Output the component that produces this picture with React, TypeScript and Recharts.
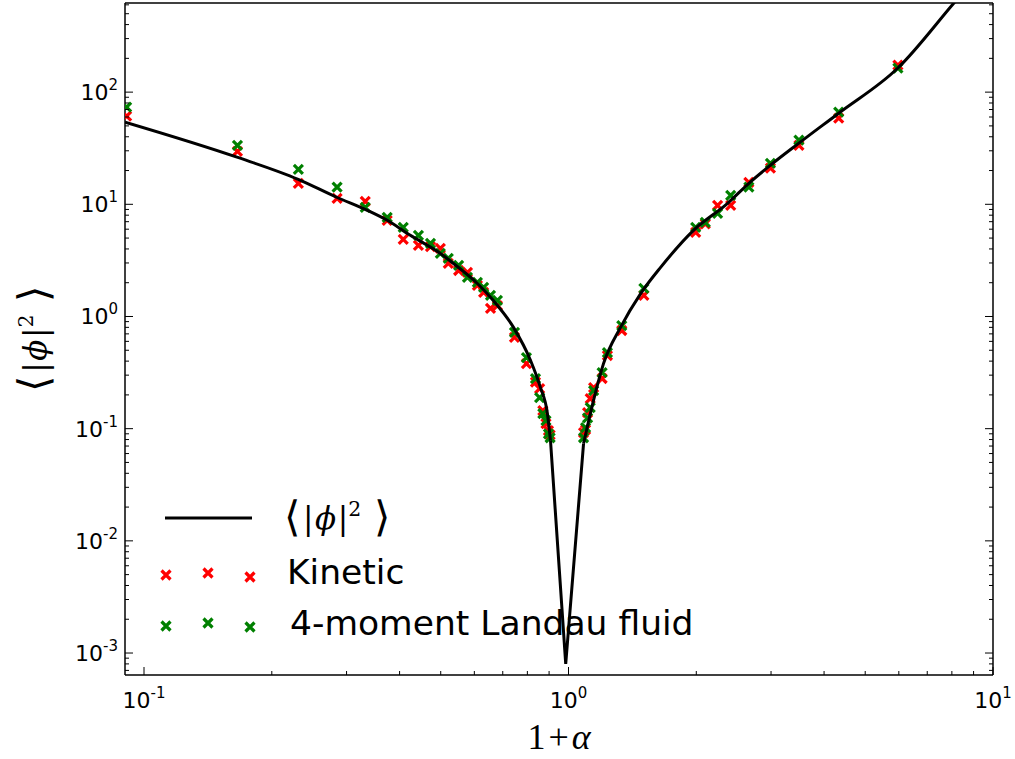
import React from 'react';
import { ComposedChart, Scatter, Line, XAxis, YAxis, Legend, Label } from 'recharts';

// 1 + alpha for each simulation run (shared by both data sets)
const onePlusAlpha = [
  0.091, 0.166, 0.231, 0.285, 0.332, 0.374, 0.408, 0.443, 0.473, 0.499, 0.521, 0.551, 0.578,
  0.61, 0.631, 0.655, 0.68, 0.746, 0.796, 0.836, 0.855, 0.87, 0.885, 0.897, 0.905,
  1.085, 1.097, 1.109, 1.125, 1.146, 1.2, 1.235, 1.335, 1.505, 1.993, 2.1, 2.245, 2.41, 2.66,
  2.99, 3.49, 4.33, 5.97,
];
const kinetic = [
  61, 29.7, 15.4, 11.3, 10.6, 7.2, 4.87, 4.3, 4.2, 4.05, 2.97, 2.57, 2.47,
  1.89, 1.64, 1.18, 1.25, 0.65, 0.38, 0.26, 0.228, 0.145, 0.111, 0.096, 0.088,
  0.092, 0.098, 0.139, 0.185, 0.232, 0.28, 0.449, 0.75, 1.54, 5.62, 6.7, 9.8, 9.8, 15.7,
  21.0, 33.6, 58.6, 174,
];
const landauFluid = [
  73.5, 33.6, 20.5, 14.2, 9.4, 7.66, 6.23, 5.29, 4.49, 3.65, 3.3, 2.85, 2.23,
  2.01, 1.82, 1.54, 1.39, 0.72, 0.43, 0.279, 0.189, 0.136, 0.118, 0.09, 0.083,
  0.083, 0.102, 0.125, 0.154, 0.218, 0.316, 0.477, 0.83, 1.78, 6.23, 6.9, 8.3, 12.0, 14.2,
  23.2, 37.3, 66.3, 164,
];

// analytic curve: two smooth branches joined by a sharp dip at 1 + alpha ~ 1
const leftX = [
  0.0902, 0.1656, 0.2308, 0.2851, 0.3357, 0.374, 0.424, 0.499, 0.547, 0.61, 0.665, 0.742,
  0.814, 0.859, 0.892, 0.907,
];
const leftY = [
  54.0, 26.3, 16.7, 11.5, 8.84, 7.2, 5.29, 3.65, 2.79, 1.97, 1.39, 0.8,
  0.405, 0.232, 0.136, 0.078,
];
const dipX = [0.907, 0.985, 1.085];
const dipY = [0.078, 0.0008, 0.0735];
const rightX = [1.085, 1.145, 1.209, 1.326, 1.479, 1.648, 1.97, 2.37, 2.66, 2.99, 3.49, 4.33, 5.97, 8.09, 10];
const rightY = [0.0735, 0.178, 0.38, 0.8, 1.6, 2.74, 5.86, 10.2, 15.4, 22.3, 35.1, 64.9, 164, 623, 1585];

const X_DOMAIN = [0.0902, 10];
const Y_DOMAIN = [6.37e-4, 623];
const xDecades = [-2, -1, 0, 1];
const yDecades = [-4, -3, -2, -1, 0, 1, 2];
const minorSteps = [1, 2, 3, 4, 5, 6, 7, 8, 9];

const logTicks = (decades: number[], domain: number[]) =>
  decades
    .flatMap((d) => minorSteps.map((m) => m * Math.pow(10, d)))
    .filter((v) => v >= domain[0] * 0.9999 && v <= domain[1] * 1.0001);

const xTicks = logTicks(xDecades, X_DOMAIN);
const yTicks = logTicks(yDecades, Y_DOMAIN);

const toPts = (xs: number[], ys: number[]) => xs.map((x, i) => ({ x, y: ys[i] }));
const kineticPts = toPts(onePlusAlpha, kinetic);
const fluidPts = toPts(onePlusAlpha, landauFluid);

const RED = '#ff0000';
const GREEN = '#008000';
const GAP = 6;
const MAJOR = 8;
const MINOR = 4;
const TICK_FONT = "'DejaVu Sans', sans-serif";
const MATH_FONT = "'DejaVu Serif', serif";

const exponent = (v: number) => Math.round(Math.log10(v));
const isMajor = (v: number) => Math.abs(Math.log10(v) - exponent(v)) < 1e-6;

const Power = ({ x, y, v, anchor }: { x: number; y: number; v: number; anchor: string }) => (
  <text x={x} y={y} textAnchor={anchor} fontFamily={TICK_FONT} fontSize={22} fill="#000">
    <tspan>10</tspan>
    <tspan fontSize={15} dy={-10}>{String(exponent(v))}</tspan>
  </text>
);

const BottomTick = ({ x, y, payload }: any) => {
  const v = payload.value;
  const major = isMajor(v);
  const ay = y - GAP;
  return (
    <g>
      <line x1={x} x2={x} y1={ay} y2={ay - (major ? MAJOR : MINOR)} stroke="#000" strokeWidth={1} />
      {major && <Power x={x} y={ay + 33} v={v} anchor="middle" />}
    </g>
  );
};

const TopTick = ({ x, y, payload }: any) => {
  const ay = y + GAP;
  const len = isMajor(payload.value) ? MAJOR : MINOR;
  return <line x1={x} x2={x} y1={ay} y2={ay + len} stroke="#000" strokeWidth={1} />;
};

const LeftTick = ({ x, y, payload }: any) => {
  const v = payload.value;
  const major = isMajor(v);
  const ax = x + GAP;
  return (
    <g>
      <line x1={ax} x2={ax + (major ? MAJOR : MINOR)} y1={y} y2={y} stroke="#000" strokeWidth={1} />
      {major && <Power x={ax - 7} y={y + 8} v={v} anchor="end" />}
    </g>
  );
};

const RightTick = ({ x, y, payload }: any) => {
  const ax = x - GAP;
  const len = isMajor(payload.value) ? MAJOR : MINOR;
  return <line x1={ax} x2={ax - len} y1={y} y2={y} stroke="#000" strokeWidth={1} />;
};

const XMark = ({ cx, cy, color }: { cx: number; cy: number; color: string }) => {
  const s = 4.5;
  return (
    <path
      d={`M${cx - s},${cy - s}L${cx + s},${cy + s}M${cx - s},${cy + s}L${cx + s},${cy - s}`}
      stroke={color}
      strokeWidth={3.2}
      fill="none"
    />
  );
};

// <|phi|^2>
const PhiSquared = ({ x, y, size, anchor = 'start', transform }: any) => (
  <text x={x} y={y} textAnchor={anchor} transform={transform} fontFamily={MATH_FONT} fontSize={size} fill="#000">
    <tspan fontFamily="'DejaVu Sans'" fontWeight={200} fontSize={size * 1.35} dy={size * 0.06}>⟨</tspan>
    <tspan dx={size * 0.1} dy={-size * 0.06}>|</tspan>
    <tspan fontStyle="italic" dx={size * 0.05}>ϕ</tspan>
    <tspan dx={size * 0.05}>|</tspan>
    <tspan fontSize={size * 0.66} dy={-size * 0.42}>2</tspan>
    <tspan fontFamily="'DejaVu Sans'" fontWeight={200} fontSize={size * 1.35} dx={size * 0.4} dy={size * 0.48}>⟩</tspan>
  </text>
);

const LegendBox = () => (
  <svg width={1015} height={759} style={{ position: 'absolute', left: 0, top: 0, overflow: 'visible' }}>
    <line x1={165} x2={252} y1={518} y2={518} stroke="#000" strokeWidth={3} />
    <PhiSquared x={284} y={529} size={31} />
    <XMark cx={166} cy={575} color={RED} />
    <XMark cx={208} cy={573} color={RED} />
    <XMark cx={250} cy={577} color={RED} />
    <text x={287} y={584} fontFamily={TICK_FONT} fontSize={34.5} fill="#000">Kinetic</text>
    <XMark cx={166} cy={626} color={GREEN} />
    <XMark cx={208} cy={623} color={GREEN} />
    <XMark cx={250} cy={627} color={GREEN} />
    <text x={290} y={635} fontFamily={TICK_FONT} fontSize={34.5} fill="#000">4-moment Landau fluid</text>
  </svg>
);

const XTitle = ({ viewBox }: any) => {
  const cx = viewBox.x + viewBox.width / 2;
  return (
    <text x={cx} y={viewBox.y + 74} textAnchor="middle" fontFamily="'Liberation Serif', serif" fontSize={36} fill="#000">
      <tspan>1</tspan>
      <tspan dx={3}>+</tspan>
      <tspan dx={3} fontStyle="italic">α</tspan>
    </text>
  );
};

const YTitle = ({ viewBox }: any) => {
  const cy = viewBox.y + viewBox.height / 2;
  const bx = 46;
  return <PhiSquared x={bx} y={cy} size={31} anchor="middle" transform={`rotate(-90, ${bx}, ${cy})`} />;
};

const curveProps = {
  dataKey: 'y',
  stroke: '#000',
  strokeWidth: 3,
  dot: false,
  activeDot: false,
  legendType: 'none' as const,
  isAnimationActive: false,
  zIndex: 650,
};

export default function App() {
  return (
    <div style={{ position: 'absolute', left: 0, top: 0, width: 1015, height: 759, background: '#fff' }}>
      <ComposedChart width={1015} height={759} margin={{ top: 0, right: 0, bottom: 0, left: 0 }}>
        <XAxis
          dataKey="x"
          type="number"
          scale="log"
          domain={X_DOMAIN}
          allowDataOverflow
          ticks={xTicks}
          interval={0}
          height={84}
          tickSize={0}
          tickMargin={GAP}
          tick={<BottomTick />}
          axisLine={{ stroke: '#000', strokeWidth: 1.5 }}
        >
          <Label content={<XTitle />} />
        </XAxis>
        <XAxis
          xAxisId="top"
          orientation="top"
          type="number"
          scale="log"
          domain={X_DOMAIN}
          allowDataOverflow
          ticks={xTicks}
          interval={0}
          height={3}
          tickSize={0}
          tickMargin={GAP}
          tick={<TopTick />}
          axisLine={{ stroke: '#000', strokeWidth: 1.5 }}
        />
        <YAxis
          dataKey="y"
          type="number"
          scale="log"
          domain={Y_DOMAIN}
          allowDataOverflow
          ticks={yTicks}
          interval={0}
          width={125}
          tickSize={0}
          tickMargin={GAP}
          tick={<LeftTick />}
          axisLine={{ stroke: '#000', strokeWidth: 1.5 }}
        >
          <Label content={<YTitle />} />
        </YAxis>
        <YAxis
          yAxisId="right"
          orientation="right"
          type="number"
          scale="log"
          domain={Y_DOMAIN}
          allowDataOverflow
          ticks={yTicks}
          interval={0}
          width={22}
          tickSize={0}
          tickMargin={GAP}
          tick={<RightTick />}
          axisLine={{ stroke: '#000', strokeWidth: 1.5 }}
        />
        <Legend
          content={<LegendBox />}
          wrapperStyle={{ left: 0, top: 0, bottom: 'auto', width: 0, height: 0 }}
        />
        <Scatter
          name="Kinetic"
          data={kineticPts}
          isAnimationActive={false}
          shape={(p: any) => <XMark cx={p.cx} cy={p.cy} color={RED} />}
        />
        <Scatter
          name="4-moment Landau fluid"
          data={fluidPts}
          isAnimationActive={false}
          shape={(p: any) => <XMark cx={p.cx} cy={p.cy} color={GREEN} />}
        />
        <Line {...curveProps} type="monotone" data={toPts(leftX, leftY)} />
        <Line {...curveProps} type="linear" data={toPts(dipX, dipY)} />
        <Line {...curveProps} type="monotone" data={toPts(rightX, rightY)} />
      </ComposedChart>
    </div>
  );
}
